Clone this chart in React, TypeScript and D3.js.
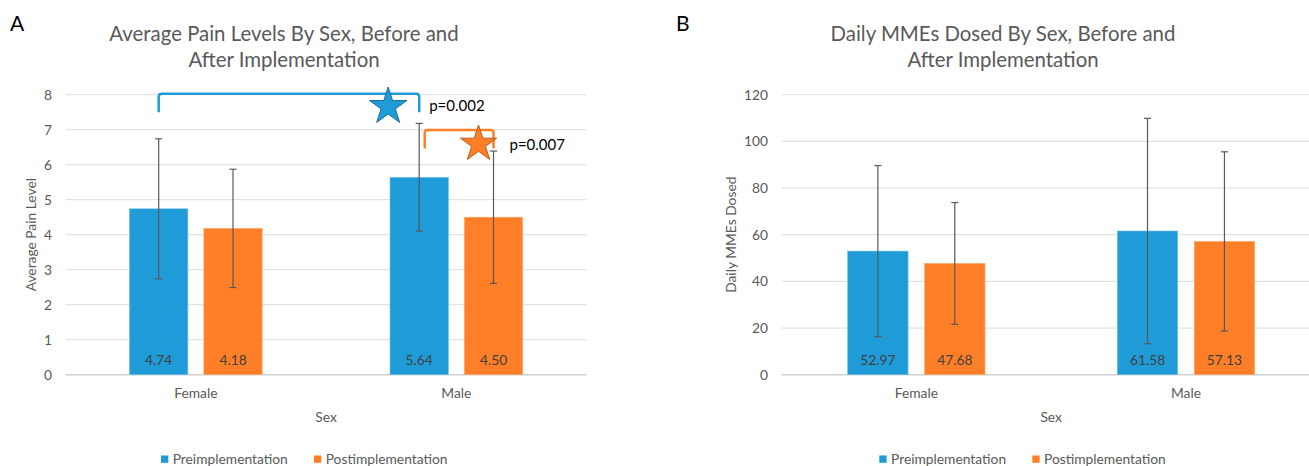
import React from "react";
import * as d3 from "d3";

// Shared categories and series
const categories = ["Female", "Male"];
const seriesNames = ["Preimplementation", "Postimplementation"];

// Panel A: average pain level (mean and SD)
const painPre = [4.74, 5.64];
const painPost = [4.18, 4.5];
const painPreSd = [2.0, 1.54];
const painPostSd = [1.69, 1.89];
const painTicks = [0, 1, 2, 3, 4, 5, 6, 7, 8];

// Panel B: daily MMEs dosed (mean and SD)
const mmePre = [52.97, 61.58];
const mmePost = [47.68, 57.13];
const mmePreSd = [36.65, 48.3];
const mmePostSd = [26.1, 38.4];
const mmeTicks = [0, 20, 40, 60, 80, 100, 120];

// Significance annotations on panel A
const pValues = ["p=0.002", "p=0.007"];

const BLUE = "#1F9BD7";
const ORANGE = "#FE7F27";
const TEXT = "#595959";
const FONT = "Lato, 'Open Sans', sans-serif";
const SMALL = 13.8;

type PanelProps = {
  letter: string;
  letterX: number;
  titleLines: string[];
  titleX: number;
  yTitle: string;
  yTitleX: number;
  x0: number;
  x1: number;
  clipRight: number;
  yMax: number;
  ticks: number[];
  pre: number[];
  post: number[];
  preSd: number[];
  postSd: number[];
  legendX: number;
  legendGap: number;
  children?: (x: d3.ScaleBand<string>, xs: d3.ScaleBand<string>, y: d3.ScaleLinear<number, number>) => React.ReactNode;
};

function Panel(p: PanelProps) {
  const yTop = 94.7;
  const yBottom = 374.7;
  const y = d3.scaleLinear().domain([0, p.yMax]).range([yBottom, yTop]);
  const x = d3.scaleBand<string>().domain(categories).range([p.x0, p.x1]);
  const xs = d3
    .scaleBand<string>()
    .domain(seriesNames)
    .range([0, x.bandwidth()])
    .paddingInner(0.215)
    .paddingOuter(0.86);
  const values = [p.pre, p.post];
  const sds = [p.preSd, p.postSd];
  const colors = [BLUE, ORANGE];
  const gridRight = Math.min(p.x1, p.clipRight);

  return (
    <g>
      <text x={p.letterX} y={31} fontSize={21} fill="#000" fontFamily={FONT}>
        {p.letter}
      </text>
      {p.titleLines.map((t, i) => (
        <text
          key={t}
          x={p.titleX}
          y={41 + i * 26}
          textAnchor="middle"
          fontSize={20.4}
          fill={TEXT}
          fontFamily={FONT}
        >
          {t}
        </text>
      ))}
      {p.ticks.map((t) => (
        <g key={t}>
          <line
            x1={p.x0}
            x2={gridRight}
            y1={y(t)}
            y2={y(t)}
            stroke={t === 0 ? "#D0D0D0" : "#DCDCDC"}
            strokeWidth={t === 0 ? 1.6 : 1}
          />
          <text
            x={p.x0 - 13.5}
            y={y(t) + 4.8}
            textAnchor="end"
            fontSize={SMALL}
            fill={TEXT}
            fontFamily={FONT}
          >
            {t}
          </text>
        </g>
      ))}
      <text
        transform={`translate(${p.yTitleX},${(yTop + yBottom) / 2}) rotate(-90)`}
        textAnchor="middle"
        dy={4.8}
        fontSize={SMALL}
        fill={TEXT}
        fontFamily={FONT}
      >
        {p.yTitle}
      </text>
      {categories.map((c, ci) => (
        <g key={c}>
          {seriesNames.map((s, si) => {
            const v = values[si][ci];
            const sd = sds[si][ci];
            const bx = (x(c) as number) + (xs(s) as number);
            const cx = bx + xs.bandwidth() / 2;
            return (
              <g key={s}>
                <rect
                  x={bx}
                  y={y(v)}
                  width={xs.bandwidth()}
                  height={y(0) - y(v)}
                  fill={colors[si]}
                  stroke={si === 0 ? "#6BC0EA" : "#FFA868"}
                  strokeWidth={0.6}
                />
                <text
                  x={cx}
                  y={yBottom - 10}
                  textAnchor="middle"
                  fontSize={SMALL}
                  fill="#404040"
                  fontFamily={FONT}
                >
                  {v.toFixed(2)}
                </text>
                <line x1={cx} x2={cx} y1={y(v + sd)} y2={y(v - sd)} stroke="#595959" strokeWidth={1.2} />
                <line x1={cx - 3.5} x2={cx + 3.5} y1={y(v + sd)} y2={y(v + sd)} stroke="#595959" strokeWidth={1.2} />
                <line x1={cx - 3.5} x2={cx + 3.5} y1={y(v - sd)} y2={y(v - sd)} stroke="#595959" strokeWidth={1.2} />
              </g>
            );
          })}
          <text
            x={(x(c) as number) + x.bandwidth() / 2}
            y={398}
            textAnchor="middle"
            fontSize={SMALL}
            fill={TEXT}
            fontFamily={FONT}
          >
            {c}
          </text>
        </g>
      ))}
      <text
        x={(p.x0 + p.x1) / 2}
        y={422}
        textAnchor="middle"
        fontSize={SMALL}
        fill={TEXT}
        fontFamily={FONT}
      >
        Sex
      </text>
      {seriesNames.map((s, si) => {
        const lx = p.legendX + si * p.legendGap;
        return (
          <g key={s}>
            <rect x={lx} y={455.5} width={7.3} height={7.3} fill={colors[si]} />
            <text x={lx + 11.7} y={463.8} fontSize={SMALL} fill={TEXT} fontFamily={FONT}>
              {s}
            </text>
          </g>
        );
      })}
      {p.children ? p.children(x, xs, y) : null}
    </g>
  );
}

function bracket(xa: number, xb: number, yTop: number, yEnd: number, r: number) {
  const path = d3.path();
  path.moveTo(xa, yEnd);
  path.lineTo(xa, yTop + r);
  path.quadraticCurveTo(xa, yTop, xa + r, yTop);
  path.lineTo(xb - r, yTop);
  path.quadraticCurveTo(xb, yTop, xb, yTop + r);
  path.lineTo(xb, yEnd);
  return path.toString();
}

export default function App() {
  const star = d3.symbol(d3.symbolStar, 430)();
  const starSmall = d3.symbol(d3.symbolStar, 405)();

  return (
    <svg
      width={1309}
      height={466}
      style={{ position: "absolute", left: 0, top: 0, background: "#fff" }}
    >
      <rect width={1309} height={466} fill="#fff" />
      <Panel
        letter="A"
        letterX={10}
        titleLines={["Average Pain Levels By Sex, Before and", "After Implementation"]}
        titleX={284}
        yTitle="Average Pain Level"
        yTitleX={31.5}
        x0={65.6}
        x1={586.6}
        clipRight={1309}
        yMax={8}
        ticks={painTicks}
        pre={painPre}
        post={painPost}
        preSd={painPreSd}
        postSd={painPostSd}
        legendX={161}
        legendGap={153}
      >
        {(x, xs, y) => {
          const ctr = (c: string, s: string) =>
            (x(c) as number) + (xs(s) as number) + xs.bandwidth() / 2;
          const fPre = ctr("Female", seriesNames[0]);
          const mPre = ctr("Male", seriesNames[0]);
          const mPost = ctr("Male", seriesNames[1]);
          return (
            <g>
              <path
                d={bracket(fPre, mPre, y(8.03), y(7.5), 3)}
                fill="none"
                stroke={BLUE}
                strokeWidth={2.5}
              />
              <path
                d={bracket(mPre + 5.5, mPost, y(6.99), y(6.46), 3)}
                fill="none"
                stroke={ORANGE}
                strokeWidth={2.5}
              />
              <path
                d={star}
                transform={`translate(${mPre - 31},${y(7.66)})`}
                fill={BLUE}
                stroke="#1B6D9A"
                strokeWidth={1}
              />
              <path
                d={starSmall}
                transform={`translate(${mPost - 15},${y(6.59)})`}
                fill={ORANGE}
                stroke="#B85A17"
                strokeWidth={1}
              />
              <text x={mPre + 10} y={y(7.66) + 4.5} fontSize={15} fill="#000" fontFamily={FONT}>
                {pValues[0]}
              </text>
              <text x={mPost + 16} y={y(6.59) + 5.5} fontSize={15} fill="#000" fontFamily={FONT}>
                {pValues[1]}
              </text>
            </g>
          );
        }}
      </Panel>
      <Panel
        letter="B"
        letterX={676}
        titleLines={["Daily MMEs Dosed By Sex, Before and", "After Implementation"]}
        titleX={1003}
        yTitle="Daily MMEs Dosed"
        yTitleX={731}
        x0={781.5}
        x1={1320.8}
        clipRight={1309}
        yMax={120}
        ticks={mmeTicks}
        pre={mmePre}
        post={mmePost}
        preSd={mmePreSd}
        postSd={mmePostSd}
        legendX={879.3}
        legendGap={153}
      />
    </svg>
  );
}
